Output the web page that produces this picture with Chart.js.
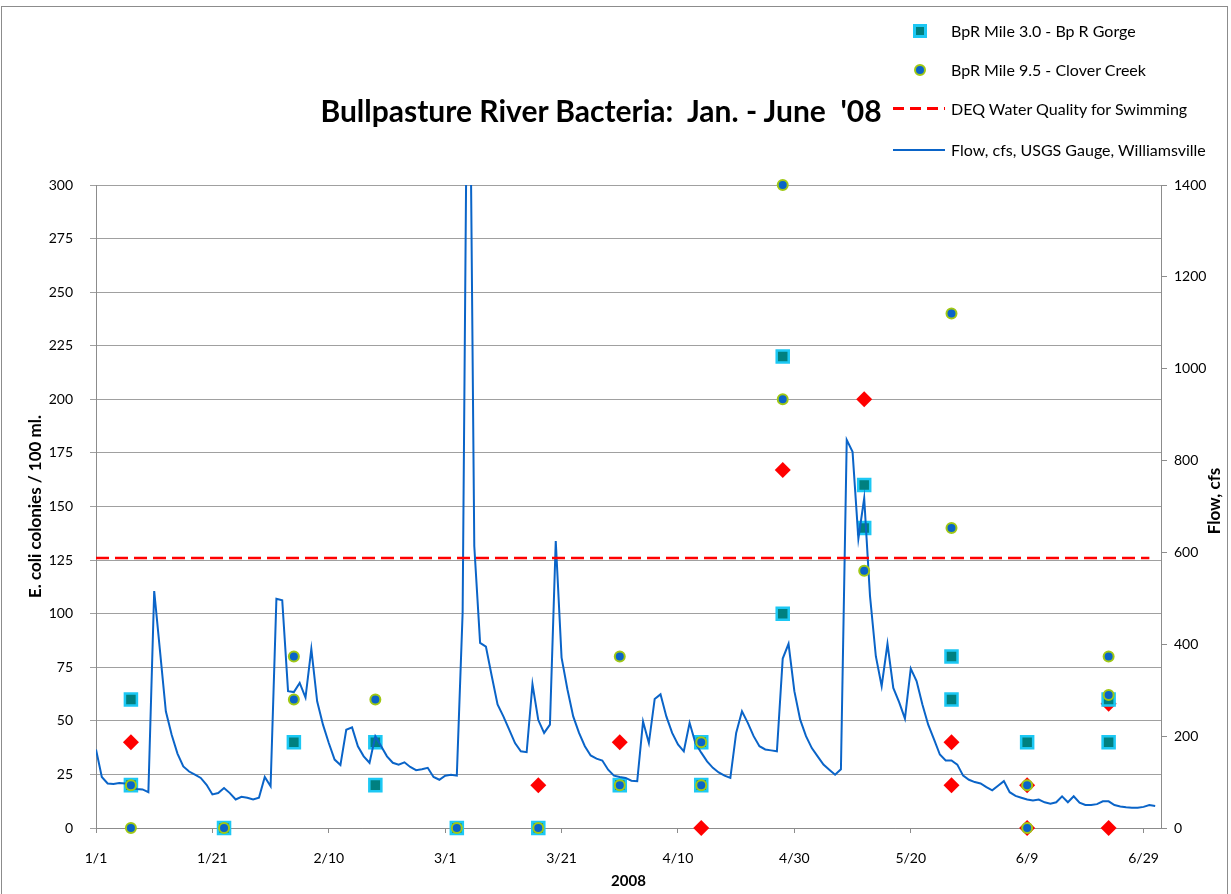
<!DOCTYPE html>
<html>
<head>
<meta charset="utf-8">
<script src="https://cdn.jsdelivr.net/npm/chart.js@4.4.1/dist/chart.umd.min.js"></script>
<style>
  body { margin: 0; background: #fff; }
  #wrap { position: relative; width: 1231px; height: 894px; overflow: hidden; font-family: Lato, "Open Sans", sans-serif; color: #000; }
  #frame { position: absolute; left: 1px; top: 6px; width: 1225px; height: 900px; border: 1px solid #8c8c8c; }
  #title { position: absolute; left: 0; top: 92px; width: 1202px; text-align: center; font-weight: bold; font-size: 30px; line-height: 36px; }
  .leg { position: absolute; left: 951px; font-size: 16px; line-height: 20px; white-space: nowrap; }
  .mk { position: absolute; box-sizing: border-box; }
  #rtitle { position: absolute; left: 1213px; top: 501px; transform: translate(-50%, -50%) rotate(-90deg); font-weight: bold; font-size: 17px; white-space: nowrap; }
</style>
</head>
<body>
<div id="wrap">
  <canvas id="myChart" width="1231" height="894"></canvas>
  <div id="frame"></div>
  <div id="title">Bullpasture River Bacteria:&nbsp; Jan. - June&nbsp; '08</div>

  <div class="mk" style="left:913px;top:24px;width:14px;height:14px;background:#008080;border:3px solid #1cc8f4;"></div>
  <div class="leg" style="top:21px;">BpR Mile 3.0 - Bp R Gorge</div>
  <div class="mk" style="left:914px;top:64px;width:12px;height:12px;background:#0a64c8;border:2px solid #a0c814;border-radius:50%;"></div>
  <div class="leg" style="top:60px;">BpR Mile 9.5 - Clover Creek</div>
  <div class="mk" style="left:893px;top:107px;width:52px;height:3px;background:repeating-linear-gradient(to right, #ff0000 0 11px, transparent 11px 17px);"></div>
  <div class="leg" style="top:99px;">DEQ Water Quality for Swimming</div>
  <div class="mk" style="left:893px;top:149px;width:52px;height:0;border-top:2px solid #0a64c8;"></div>
  <div class="leg" style="top:140px;">Flow, cfs, USGS Gauge, Williamsville</div>

  <div id="rtitle">Flow, cfs</div>
</div>
<script>
// flow, cfs, one value per day starting 1/1/2008
var flowCfs = [
  171, 111, 97, 96, 98, 97, 95, 85, 84, 78,
  516, 385, 254, 203, 162, 134, 123, 116, 109, 94,
  73, 76, 87, 76, 62, 68, 66, 62, 66, 111,
  91, 499, 496, 298, 296, 316, 284, 390, 276, 225,
  185, 149, 137, 214, 219, 178, 156, 142, 200, 178,
  156, 142, 138, 143, 133, 126, 128, 131, 111, 105,
  114, 116, 114, 469, 2050, 614, 403, 395, 331, 269,
  243, 214, 185, 167, 165, 313, 235, 207, 225, 625,
  371, 302, 243, 207, 178, 158, 151, 147, 127, 114,
  111, 109, 103, 102, 232, 185, 281, 291, 243, 207,
  182, 167, 229, 185, 164, 145, 131, 121, 114, 109,
  207, 254, 229, 200, 178, 171, 169, 167, 369, 401,
  298, 236, 200, 174, 156, 138, 127, 116, 128, 845,
  819, 630, 718, 505, 374, 309, 401, 305, 274, 238,
  347, 320, 269, 225, 193, 160, 147, 147, 138, 114,
  105, 100, 97, 89, 82, 92, 102, 78, 70, 66,
  62, 60, 62, 56, 53, 56, 69, 56, 69, 55,
  50, 50, 52, 58, 58, 50, 47, 45, 44, 44,
  46, 50, 48
];

// sample days (days after 1/1) and E. coli per 100 ml
var gorgeDays  = [6, 6, 22, 34, 48, 48, 62, 76, 90, 104, 104, 118, 118, 132, 132, 147, 147, 160, 174, 174];
var gorgeEcoli = [60, 20, 0, 40, 40, 20, 0, 0, 20, 40, 20, 220, 100, 160, 140, 80, 60, 40, 60, 40];

var cloverDays  = [6, 6, 22, 34, 34, 48, 62, 76, 90, 90, 104, 104, 118, 118, 132, 147, 147, 160, 160, 174, 174];
var cloverEcoli = [20, 0, 0, 80, 60, 60, 0, 0, 80, 20, 40, 20, 300, 200, 120, 240, 140, 20, 0, 80, 62];

var otherDays  = [6, 76, 90, 104, 118, 132, 147, 147, 160, 160, 174, 174];
var otherEcoli = [40, 20, 40, 0, 167, 200, 40, 20, 20, 0, 58, 0];

var deqDays = [0, 181];
var deqLimit = 126;

function pts(xs, ys) {
  return xs.map(function (d, i) { return { x: d, y: ys[i] }; });
}

function dayLabel(v) {
  var d = new Date(2008, 0, 1 + v);
  return (d.getMonth() + 1) + "/" + d.getDate();
}

var tickFont = { family: "Lato", size: 14 };
var axisGray = "#8c8c8c";

var ctx = document.getElementById("myChart").getContext("2d");
var myChart = new Chart(ctx, {
  type: "scatter",
  data: {
    datasets: [
      {
        label: "DEQ Water Quality for Swimming",
        data: pts(deqDays, deqDays.map(function () { return deqLimit; })),
        showLine: true,
        borderColor: "#ff0000",
        borderWidth: 2.5,
        borderDash: [13, 6],
        pointRadius: 0,
        yAxisID: "y",
        order: 0,
      },
      {
        label: "BpR Mile 9.5 - Clover Creek",
        data: pts(cloverDays, cloverEcoli),
        pointStyle: "circle",
        pointRadius: 5,
        borderWidth: 2,
        backgroundColor: "#0a64c8",
        borderColor: "#a0c814",
        yAxisID: "y",
        clip: false,
        order: 1,
      },
      {
        label: "Flow, cfs, USGS Gauge, Williamsville",
        data: flowCfs.map(function (v, i) { return { x: i, y: v }; }),
        showLine: true,
        borderColor: "#0a64c8",
        borderWidth: 2,
        pointRadius: 0,
        yAxisID: "y1",
        order: 2,
      },
      {
        label: "BpR Mile 3.0 - Bp R Gorge",
        data: pts(gorgeDays, gorgeEcoli),
        pointStyle: "rect",
        pointRadius: 8.5,
        borderWidth: 2.5,
        backgroundColor: "#008080",
        borderColor: "#1cc8f4",
        yAxisID: "y",
        clip: false,
        order: 3,
      },
      {
        label: "other",
        data: pts(otherDays, otherEcoli),
        pointStyle: "rectRot",
        pointRadius: 8,
        borderWidth: 0,
        backgroundColor: "#ff0000",
        borderColor: "#ff0000",
        yAxisID: "y",
        clip: false,
        order: 4,
      },
    ],
  },
  options: {
    responsive: false,
    animation: false,
    layout: { padding: { top: 185, left: 0, right: 0, bottom: 0 } },
    plugins: {
      legend: { display: false },
      title: { display: false },
      tooltip: { enabled: false },
    },
    scales: {
      x: {
        type: "linear",
        min: 0,
        max: 183,
        afterFit: function (s) { s.height = 66; },
        ticks: {
          stepSize: 20,
          includeBounds: false,
          maxRotation: 0,
          padding: 17,
          color: "#000",
          font: tickFont,
          callback: function (v) { return dayLabel(v); },
        },
        grid: { drawOnChartArea: false, tickLength: 5, color: axisGray },
        border: { color: axisGray },
        title: {
          display: true,
          text: "2008",
          color: "#000",
          font: { family: "Lato", size: 15, weight: "bold" },
          padding: { top: 0, bottom: 4 },
        },
      },
      y: {
        position: "left",
        min: 0,
        max: 300,
        afterFit: function (s) { s.width = 96; },
        ticks: { stepSize: 25, padding: 17, color: "#000", font: tickFont },
        grid: { color: "#a0a0a0", tickLength: 6 },
        border: { color: axisGray },
        title: {
          display: true,
          text: "E. coli colonies / 100 ml.",
          color: "#000",
          font: { family: "Lato", size: 17, weight: "bold" },
          padding: { top: 25, bottom: 0 },
        },
      },
      y1: {
        position: "right",
        min: 0,
        max: 1400,
        afterFit: function (s) { s.width = 70; },
        ticks: {
          stepSize: 200,
          padding: 7,
          color: "#000",
          font: tickFont,
          callback: function (v) { return String(v); },
        },
        grid: { drawOnChartArea: false, tickLength: 6, color: axisGray },
        border: { color: axisGray },
      },
    },
  },
});
</script>
</body>
</html>
